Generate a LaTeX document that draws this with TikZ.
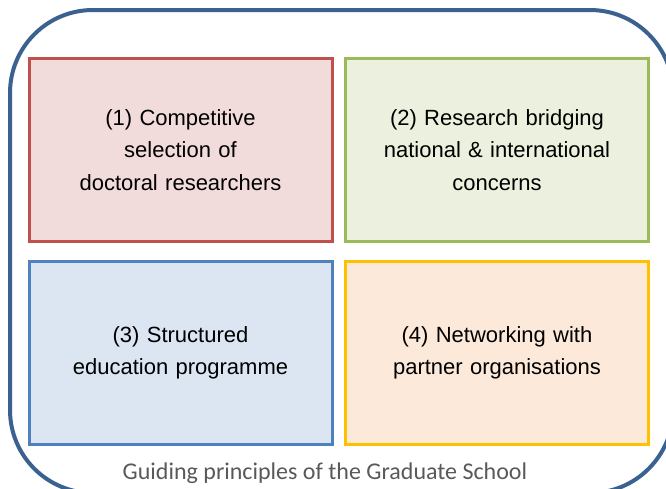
\documentclass[tikz,border=0pt]{standalone}
\usepackage{fontspec}
\setmainfont{Liberation Sans}
\newfontfamily\capfont{Carlito}
\definecolor{outerblue}{HTML}{3A6190}
\definecolor{redb}{HTML}{C0504D}\definecolor{redf}{HTML}{F2DCDB}
\definecolor{greenb}{HTML}{9BBB59}\definecolor{greenf}{HTML}{EBF1DE}
\definecolor{blueb}{HTML}{4F81BD}\definecolor{bluef}{HTML}{DCE6F2}
\definecolor{orangeb}{HTML}{FFC000}\definecolor{orangef}{HTML}{FDE9D9}
\definecolor{capgray}{HTML}{595959}
\tikzset{
  principle/.style={draw, line width=3pt, minimum width=303pt, minimum height=183pt,
    align=center, font=\fontsize{22}{32.5}\selectfont, text width=280pt, inner sep=0pt},
}
\begin{document}
\begin{tikzpicture}[x=1pt,y=-1pt]
\useasboundingbox (0,0) rectangle (666,488);
\begin{scope}
\clip (0,0) rectangle (666,488);
\draw[outerblue, line width=4pt, rounded corners=83pt] (10,10) rectangle (673,493);
\end{scope}
\node[principle, draw=redb, fill=redf] (p1) at (180.5,150) {(1) Competitive\\selection of\\doctoral researchers};
\node[principle, draw=greenb, fill=greenf] (p2) at (497,150) {(2) Research bridging\\national \& international\\concerns};
\node[principle, draw=blueb, fill=bluef] (p3) at (180.5,353) {(3) Structured\\education programme};
\node[principle, draw=orangeb, fill=orangef] (p4) at (497,353) {(4) Networking with\\partner organisations};
\node[font=\capfont\fontsize{24}{26}\selectfont, text=capgray, anchor=base, inner sep=0pt] (cap) at (325,479) {Guiding principles of the Graduate School};
\end{tikzpicture}
\end{document}
